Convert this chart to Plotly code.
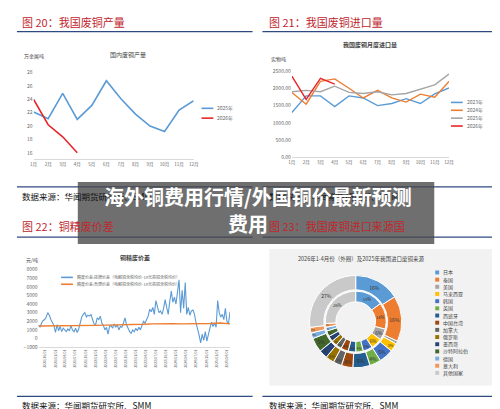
import pandas as pd
import plotly.graph_objects as go

# --- data ---
months = ["1月", "2月", "3月", "4月", "5月", "6月", "7月", "8月", "9月", "10月", "11月", "12月"]

scrap_out_2025 = [22.1, 21.1, 24.9, 21.0, 23.1, 26.8, 24.1, 21.8, 20.0, 19.2, 22.4, 23.8]
scrap_out_2026 = [24.0, 20.2, 18.4, 16.0]

imp_2023 = [1300, 1780, 1780, 1470, 1780, 1720, 1500, 1560, 1700, 1560, 1840, 2010]
imp_2024 = [1880, 1540, 2200, 2270, 2000, 1720, 1940, 1720, 1600, 1830, 1740, 2200]
imp_2025 = [1900, 1940, 1900, 2060, 1880, 1850, 1900, 1810, 1850, 1980, 2100, 2410]
imp_2026 = [2350, 1680, 2290, 2120]

spread_blue = [1600, 1300, 1800, 2100, 2200, 2500, 3000, 2700, 2200, 1800, 1500, 700, 1600, 900, 1400, 800,
               1200, 1000, 800, 1100, 900, 1500, 1000, 800, 1200, 700, 1100, 1800, 2500, 2800, 3000, 2500,
               2700, 2600, 2800, 2200, 1700, 1600, 2400, 2200, 2600, 1800, 1500, 1000, 1300, 500, 1400, 1500,
               1200, 1700, 1300, 1600, 1000, 1400, 1300, 1800, 2400, 1600, 1100, 800, 600, 1000, 800, 1200,
               900, 1300, 1000, 1600, 2000, 1800, 2200, 2600, 3400, 3100, 3600, 2800, 4400, 3800, 3000, 3200,
               2800, 3500, 4500, 3600, 2800, 4300, 5500, 4200, 4800, 4000, 5200, 6800, 3000, 5600, 3500, 6500,
               2800, 3600, 2700, 3200, 3300, 2800, 1800, 1200, 400, -500, 500, -200, 800, -300, 600, 1200,
               1900, 1400, 1800, 1300, 4400, 3000, 2500, 2800, 2200, 3500, 2000, 1700, 3100]
spread_orange = [1450, 1450, 1480, 1500, 1500, 1520, 1530, 1550, 1560, 1580, 1600, 1650, 1700, 1750,
                 1720, 1700, 1700, 1720, 1750, 1800, 1700]

src_labels = ["日本", "泰国", "美国", "马来西亚", "韩国", "英国", "西班牙", "中国台湾", "加拿大",
              "俄罗斯", "墨西哥", "沙特阿拉伯", "德国", "意大利", "其他国家"]
src_2026 = [16, 16, 1, 3, 5, 4, 6, 4, 3, 3, 3, 5, 2, 2, 27]
src_2025 = [15, 14, 6, 6, 5, 4, 4, 4, 3, 3, 3, 3, 2, 2, 26]
src_colors = ["#5B9BD5", "#ED7D31", "#A5A5A5", "#FFC000", "#4472C4", "#70AD47", "#255E91", "#9E480E",
              "#636363", "#997300", "#264478", "#43682B", "#7CAFDD", "#F1975A", "#C9C9C9"]

W, H = 500, 409
FONT = "Noto Sans CJK SC"


def px(x):
    return x / W


def py(y):
    return 1 - y / H


blue_d = pd.date_range("2020-08-01", periods=len(spread_blue), freq="14D")
orange_d = pd.date_range(blue_d[0], blue_d[-1], periods=len(spread_orange))

fig = go.Figure()

# chart 20
fig.add_trace(go.Scatter(x=months, y=scrap_out_2025, mode="lines", line=dict(color="#5B9BD5", width=1.6),
                         xaxis="x", yaxis="y"))
fig.add_trace(go.Scatter(x=months[:4], y=scrap_out_2026, mode="lines", line=dict(color="#E8262A", width=1.6),
                         xaxis="x", yaxis="y"))

# chart 21
imp_series = [(imp_2023, "2023年", "#5B9BD5"), (imp_2024, "2024年", "#ED7D31"),
              (imp_2025, "2025年", "#A5A5A5"), (imp_2026, "2026年", "#E8262A")]
for vals, nm, col in imp_series:
    fig.add_trace(go.Scatter(x=months[:len(vals)], y=vals, mode="lines", line=dict(color=col, width=1.4),
                             xaxis="x2", yaxis="y2"))

# chart 22
fig.add_trace(go.Scatter(x=blue_d, y=spread_blue, mode="lines", line=dict(color="#5B9BD5", width=1.1),
                         xaxis="x3", yaxis="y3"))
fig.add_trace(go.Scatter(x=orange_d, y=spread_orange, mode="lines", line=dict(color="#ED7D31", width=1.4),
                         xaxis="x3", yaxis="y3"))

# chart 23
pie_common = dict(labels=src_labels, sort=False, direction="clockwise", textposition="inside",
                  insidetextorientation="horizontal",
                  marker=dict(colors=src_colors, line=dict(color="white", width=1)),
                  texttemplate="%{value}%", textfont=dict(size=5, color="#333"))
fig.add_trace(go.Pie(values=src_2026, hole=0.69, domain=dict(x=[px(303), px(397)], y=[py(362), py(268)]),
                     **pie_common))
fig.add_trace(go.Pie(values=src_2025, hole=0.65, domain=dict(x=[px(319), px(381)], y=[py(346), py(284)]),
                     **pie_common))

tick = dict(size=5, color="#666")
ax = dict(showgrid=False, zeroline=False, tickfont=tick, showline=True, linecolor="#d9d9d9", ticks="")
fig.update_layout(
    width=W, height=H, margin=dict(l=0, r=0, t=0, b=0), paper_bgcolor="white", plot_bgcolor="rgba(0,0,0,0)",
    font=dict(family=FONT), showlegend=False,
    xaxis=dict(ax, domain=[px(22), px(185)], anchor="y", tickangle=0, tickfont=dict(size=4.5, color="#666")),
    yaxis=dict(ax, domain=[py(150), py(55)], range=[15, 29], dtick=2, showline=False, anchor="x"),
    xaxis2=dict(ax, domain=[px(285), px(445)], anchor="y2", tickangle=0, tickfont=dict(size=4.5, color="#666")),
    yaxis2=dict(ax, domain=[py(148), py(60)], range=[0, 2500], dtick=500, tickformat=".2f",
                showline=False, anchor="x2"),
    xaxis3=dict(ax, domain=[px(27), px(222)], anchor="y3", tickformat="%Y/%m/%d", dtick="M3",
                tickangle=-90, tickfont=dict(size=3.5, color="#666")),
    yaxis3=dict(ax, domain=[py(341), py(262)], range=[-1000, 8000], dtick=1000, showline=False, anchor="x3"),
)

shapes = [dict(type="rect", xref="paper", yref="paper", x0=px(262), x1=px(490), y0=py(380), y1=py(241),
               fillcolor="#f2f2f2", line=dict(width=0), layer="below")]
for x0, x1, y in [(5, 245, 20), (255, 497, 20), (5, 245, 229), (255, 497, 229),
                  (5, 245, 178), (255, 497, 178), (5, 245, 391), (255, 497, 391)]:
    shapes.append(dict(type="line", xref="paper", yref="paper", x0=px(x0), x1=px(x1), y0=py(y), y1=py(y),
                       line=dict(color="#2f4a80", width=1.2)))

anns = []


def txt(x, y, s, size=6, color="#444", anchor="left", bold=False):
    anns.append(dict(x=px(x), y=py(y), xref="paper", yref="paper", text=f"<b>{s}</b>" if bold else s,
                     showarrow=False, xanchor=anchor, yanchor="middle", font=dict(size=size, color=color)))


def legend_line(x, y, name, color, size=5):
    shapes.append(dict(type="line", xref="paper", yref="paper", x0=px(x), x1=px(x + 12), y0=py(y), y1=py(y),
                       line=dict(color=color, width=1.6)))
    txt(x + 14, y, name, size=size, color="#666")


# manual legends (plotly legends have a minimum row height)
legend_line(193, 98, "2025年", "#5B9BD5")
legend_line(193, 108, "2026年", "#E8262A")
for i, (vals, nm, col) in enumerate(imp_series):
    legend_line(447, 92 + i * 8, nm, col)
legend_line(50, 270, "精废价差:挂牌价差（电解铜含税均价-1#光亮铜含税均价）", "#5B9BD5", size=4)
legend_line(50, 277, "精废价差:合理价差（电解铜含税均价-1#光亮铜含税均价）", "#ED7D31", size=4)
for i, (lab, col) in enumerate(zip(src_labels, src_colors)):
    shapes.append(dict(type="rect", xref="paper", yref="paper", x0=px(431), x1=px(435),
                       y0=py(265 + i * 7.3 + 2), y1=py(265 + i * 7.3 - 2), fillcolor=col, line=dict(width=0)))
    txt(437, 265 + i * 7.3, lab, size=5, color="#444")

for x, y, s in [(8, 10, "图 20：我国废铜产量"), (260, 10, "图 21：我国废铜进口量"),
                (8, 218, "图 22：铜精废价差"), (260, 218, "图 23：我国废铜进口来源国")]:
    txt(x, y, s, size=11, color="#c0262d")
for x, y in [(8, 187), (260, 187), (8, 400), (260, 400)]:
    txt(x, y, "数据来源：华闻期货研究所、SMM", size=8.5, color="#111")
txt(118, 43, "国内废铜产量", size=6, anchor="center")
txt(10, 45, "万金属吨", size=5)
txt(365, 33, "我国废铜月度进口量", size=6, anchor="center", bold=True)
txt(262, 48, "实物吨", size=5)
txt(125, 250, "铜精废价差", size=6, anchor="center", bold=True)
txt(12, 252, "元/吨", size=5)
txt(355, 251, "2026年1-4月份（外圈）及2025年我国进口废铜来源", size=5.5, anchor="center")

# semi-transparent headline banner on top
shapes.append(dict(type="rect", xref="paper", yref="paper", x0=px(67), x1=px(430), y0=py(236), y1=py(173),
                   fillcolor="rgba(70,70,70,0.78)", line=dict(width=0), layer="above"))
txt(250, 188, "海外铜费用行情/外国铜价最新预测", size=20, color="white", anchor="center", bold=True)
txt(240, 215, "费用", size=20, color="white", anchor="center", bold=True)

fig.update_layout(shapes=shapes, annotations=anns)
fig.write_html("out.html")
